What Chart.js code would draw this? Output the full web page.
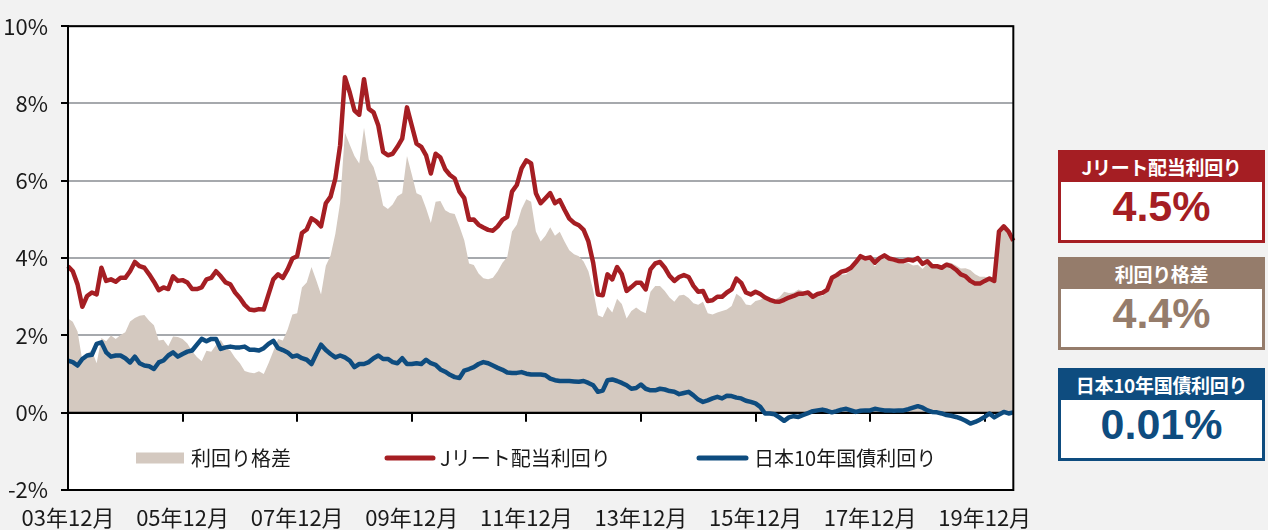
<!DOCTYPE html>
<html>
<head>
<meta charset="utf-8">
<script src="https://cdn.jsdelivr.net/npm/chart.js@4.4.1/dist/chart.umd.min.js"></script>
<style>
  body { margin: 0; background: #f2f2f2; }
  #wrap { position: relative; width: 1268px; height: 530px; overflow: hidden; }
  #chart { position: absolute; left: 0; top: 0; }
  .box { position: absolute; left: 1058px; width: 207px; height: 93px; box-sizing: border-box;
         border: 3px solid; background: #fff; }
  .box .head { height: 29px; line-height: 29px; color: #fff; text-align: center;
               font: bold 19px "Noto Sans CJK JP", sans-serif; letter-spacing: -0.3px; }
  .box .val { height: 58px; line-height: 60px; text-align: center;
              font: bold 43px "Liberation Sans", Arial, sans-serif; }
</style>
</head>
<body>
<div id="wrap">
  <canvas id="chart" width="1046" height="530"></canvas>
  <div class="box" id="b1" style="top:150px;border-color:#a51e23;">
    <div class="head" style="background:#a51e23;">Jリート配当利回り</div>
    <div class="val" style="color:#a51e23;">4.5%</div>
  </div>
  <div class="box" id="b2" style="top:257px;border-color:#957c6b;">
    <div class="head" style="background:#957c6b;">利回り格差</div>
    <div class="val" style="color:#957c6b;">4.4%</div>
  </div>
  <div class="box" id="b3" style="top:368px;border-color:#0e4c7f;">
    <div class="head" style="background:#0e4c7f;">日本10年国債利回り</div>
    <div class="val" style="color:#0e4c7f;">0.01%</div>
  </div>
</div>
<script>
// monthly, 2003/12 - 2020/06
const tickLabels = ['03年12月', '05年12月', '07年12月', '09年12月', '11年12月',
                    '13年12月', '15年12月', '17年12月', '19年12月'];

const months = [];
for (let y = 2003, m = 12; months.length < 199; m++) {
    if (m > 12) { m = 1; y++; }
    months.push(String(y % 100).padStart(2, '0') + '年' + m + '月');
}

const jreit = [
    3.79, 3.66, 3.32, 2.74, 3.02, 3.11, 3.06, 3.75, 3.41, 3.45, 3.39, 3.49,
    3.49, 3.66, 3.90, 3.79, 3.75, 3.58, 3.39, 3.17, 3.24, 3.20, 3.53, 3.41,
    3.43, 3.37, 3.20, 3.20, 3.24, 3.45, 3.49, 3.66, 3.53, 3.37, 3.32, 3.11,
    2.97, 2.79, 2.67, 2.65, 2.68, 2.67, 3.06, 3.45, 3.58, 3.49, 3.71, 3.99,
    4.05, 4.65, 4.74, 5.03, 4.95, 4.82, 5.42, 5.59, 6.06, 6.92, 8.68, 8.29,
    7.82, 7.71, 8.63, 7.86, 7.77, 7.43, 6.75, 6.66, 6.70, 6.88, 7.09, 7.90,
    7.43, 6.96, 6.88, 6.66, 6.19, 6.70, 6.60, 6.30, 6.15, 6.06, 5.72, 5.55,
    4.99, 5.00, 4.86, 4.79, 4.73, 4.71, 4.82, 4.99, 5.07, 5.72, 5.89, 6.32,
    6.53, 6.45, 5.68, 5.42, 5.55, 5.68, 5.42, 5.50, 5.25, 5.02, 4.91, 4.85,
    4.73, 4.43, 3.88, 3.06, 3.04, 3.58, 3.45, 3.77, 3.58, 3.15, 3.25, 3.36,
    3.36, 3.19, 3.71, 3.86, 3.90, 3.75, 3.54, 3.41, 3.51, 3.56, 3.51, 3.28,
    3.13, 3.15, 2.89, 2.91, 3.00, 3.00, 3.11, 3.19, 3.47, 3.36, 3.11, 3.06,
    3.13, 3.07, 2.98, 2.92, 2.88, 2.87, 2.92, 2.98, 3.02, 3.08, 3.08, 3.11,
    3.00, 3.07, 3.10, 3.18, 3.49, 3.56, 3.65, 3.68, 3.75, 3.89, 4.05, 3.99,
    4.02, 3.88, 4.00, 4.07, 3.99, 3.96, 3.92, 3.92, 3.96, 3.94, 4.00, 3.85,
    3.92, 3.79, 3.79, 3.75, 3.83, 3.79, 3.70, 3.58, 3.53, 3.41, 3.34, 3.34,
    3.41, 3.47, 3.41, 4.69, 4.82, 4.69, 4.45
];

const jgb = [
    1.35, 1.31, 1.22, 1.39, 1.48, 1.50, 1.78, 1.82, 1.56, 1.45, 1.48, 1.48,
    1.41, 1.30, 1.45, 1.28, 1.22, 1.20, 1.13, 1.30, 1.35, 1.48, 1.56, 1.45,
    1.52, 1.58, 1.61, 1.76, 1.91, 1.85, 1.91, 1.91, 1.65, 1.69, 1.71, 1.69,
    1.69, 1.71, 1.63, 1.63, 1.61, 1.67, 1.78, 1.86, 1.67, 1.62, 1.56, 1.45,
    1.48, 1.41, 1.37, 1.26, 1.52, 1.76, 1.62, 1.52, 1.43, 1.48, 1.43, 1.35,
    1.18, 1.26, 1.26, 1.31, 1.41, 1.48, 1.39, 1.39, 1.31, 1.28, 1.41, 1.26,
    1.26, 1.28, 1.26, 1.37, 1.28, 1.24, 1.12, 1.06, 0.98, 0.92, 0.90, 1.09,
    1.13, 1.18, 1.26, 1.31, 1.28, 1.22, 1.16, 1.11, 1.04, 1.03, 1.03, 1.05,
    1.01, 0.99, 0.99, 0.99, 0.97, 0.88, 0.84, 0.82, 0.82, 0.82, 0.81, 0.80,
    0.82, 0.77, 0.71, 0.54, 0.57, 0.84, 0.86, 0.82, 0.77, 0.71, 0.62, 0.64,
    0.73, 0.62, 0.58, 0.58, 0.62, 0.60, 0.56, 0.54, 0.48, 0.51, 0.54, 0.45,
    0.34, 0.28, 0.32, 0.37, 0.41, 0.37, 0.44, 0.43, 0.39, 0.37, 0.31, 0.28,
    0.24, 0.15, -0.02, -0.02, -0.04, -0.12, -0.21, -0.12, -0.09, -0.11, -0.06, -0.01,
    0.04, 0.06, 0.08, 0.05, 0.01, 0.04, 0.08, 0.10, 0.06, 0.02, 0.05, 0.06,
    0.06, 0.10, 0.08, 0.06, 0.06, 0.05, 0.06, 0.06, 0.09, 0.13, 0.17, 0.13,
    0.06, 0.02, 0.01, -0.02, -0.06, -0.08, -0.11, -0.15, -0.21, -0.28, -0.24, -0.18,
    -0.11, -0.02, -0.12, -0.05, 0.02, -0.02, 0.01
];

const spread = [
    2.44, 2.35, 2.10, 1.35, 1.54, 1.61, 1.28, 1.93, 1.85, 2.00, 1.91, 2.01,
    2.08, 2.36, 2.45, 2.51, 2.53, 2.38, 2.26, 1.87, 1.89, 1.72, 1.97, 1.96,
    1.91, 1.79, 1.59, 1.44, 1.33, 1.60, 1.58, 1.75, 1.88, 1.68, 1.61, 1.42,
    1.28, 1.08, 1.04, 1.02, 1.07, 1.00, 1.28, 1.59, 1.91, 1.87, 2.15, 2.54,
    2.57, 3.24, 3.37, 3.77, 3.43, 3.06, 3.80, 4.07, 4.63, 5.44, 7.25, 6.94,
    6.64, 6.45, 7.37, 6.55, 6.36, 5.95, 5.36, 5.27, 5.39, 5.60, 5.68, 6.64,
    6.17, 5.68, 5.62, 5.29, 4.91, 5.46, 5.48, 5.24, 5.17, 5.14, 4.82, 4.46,
    3.86, 3.82, 3.60, 3.48, 3.45, 3.49, 3.66, 3.88, 4.03, 4.69, 4.86, 5.27,
    5.52, 5.46, 4.69, 4.43, 4.58, 4.80, 4.58, 4.68, 4.43, 4.20, 4.10, 4.05,
    3.91, 3.66, 3.17, 2.52, 2.47, 2.74, 2.59, 2.95, 2.81, 2.44, 2.63, 2.72,
    2.63, 2.57, 3.13, 3.28, 3.28, 3.15, 2.98, 2.87, 3.03, 3.05, 2.97, 2.83,
    2.79, 2.87, 2.57, 2.54, 2.59, 2.63, 2.67, 2.76, 3.08, 2.99, 2.80, 2.78,
    2.89, 2.92, 3.00, 2.94, 2.92, 2.99, 3.13, 3.10, 3.11, 3.19, 3.14, 3.12,
    2.96, 3.01, 3.02, 3.13, 3.48, 3.52, 3.57, 3.58, 3.69, 3.87, 4.00, 3.93,
    3.96, 3.78, 3.92, 4.01, 3.93, 3.91, 3.86, 3.86, 3.87, 3.81, 3.83, 3.72,
    3.86, 3.77, 3.78, 3.77, 3.89, 3.87, 3.81, 3.73, 3.74, 3.69, 3.58, 3.52,
    3.52, 3.49, 3.53, 4.74, 4.80, 4.71, 4.44
];

const RED = '#a51e23';
const BLUE = '#0e4c7f';
const AREA = '#d4c9c0';
const GRID = '#a6a9ad';
const TEXT = '#1a1a1a';
const AXIS_FONT = '"Liberation Sans Narrow", "Arial Narrow", "Noto Sans CJK JP", sans-serif';
const JP_FONT = '"Noto Sans CJK JP", sans-serif';

// white plot area on grey page
const plotBg = {
    id: 'plotBg',
    beforeDraw(chart) {
        const { ctx, chartArea: a } = chart;
        ctx.save();
        ctx.fillStyle = '#fff';
        ctx.fillRect(a.left, a.top, a.right - a.left, a.bottom - a.top);
        ctx.restore();
    }
};

// zero line and the small date ticks hanging from it, over the area fill
const zeroLine = {
    id: 'zeroLine',
    afterDatasetDraw(chart, args) {
        if (args.index !== 0) return;
        const { ctx, chartArea: a, scales: { x, y } } = chart;
        const y0 = y.getPixelForValue(0);
        ctx.save();
        ctx.strokeStyle = '#000';
        ctx.lineWidth = 2;
        ctx.beginPath();
        ctx.moveTo(a.left, y0);
        ctx.lineTo(a.right, y0);
        months.forEach((m, i) => {
            if (i > 0 && tickLabels.includes(m)) {
                const px = Math.round(x.getPixelForValue(i));
                ctx.moveTo(px, y0);
                ctx.lineTo(px, y0 + 9);
            }
        });
        ctx.stroke();
        ctx.restore();
    }
};

const frameAndLegend = {
    id: 'frameAndLegend',
    afterDraw(chart) {
        const { ctx, chartArea: a } = chart;
        ctx.save();
        ctx.strokeStyle = '#000';
        ctx.lineWidth = 2;
        ctx.strokeRect(a.left, a.top, a.right - a.left, a.bottom - a.top);

        const ds = chart.data.datasets;
        const ly = 458;
        ctx.font = '20px ' + JP_FONT;
        ctx.textBaseline = 'middle';
        ctx.fillStyle = ds[0].backgroundColor;
        ctx.fillRect(136, ly - 5.5, 48, 11);
        ctx.fillStyle = TEXT;
        ctx.fillText(ds[0].label, 191, ly);

        ctx.lineCap = 'round';
        ctx.lineWidth = 5;
        [[1, 387, 433, 440], [2, 699, 746, 754]].forEach(([k, x1, x2, tx]) => {
            ctx.strokeStyle = ds[k].borderColor;
            ctx.beginPath();
            ctx.moveTo(x1, ly);
            ctx.lineTo(x2, ly);
            ctx.stroke();
            ctx.fillText(ds[k].label, tx, ly);
        });
        ctx.restore();
    }
};

new Chart(document.getElementById('chart'), {
    type: 'line',
    data: {
        labels: months,
        datasets: [{
            label: '利回り格差',
            data: spread,
            fill: 'origin',
            backgroundColor: AREA,
            borderColor: 'rgba(0,0,0,0)',
            borderWidth: 0,
            pointRadius: 0,
            order: 3
        }, {
            label: 'Jリート配当利回り',
            data: jreit,
            borderColor: RED,
            borderWidth: 4.5,
            borderJoinStyle: 'round',
            pointRadius: 0,
            fill: false,
            order: 2
        }, {
            label: '日本10年国債利回り',
            data: jgb,
            borderColor: BLUE,
            borderWidth: 4.5,
            borderJoinStyle: 'round',
            pointRadius: 0,
            fill: false,
            order: 1
        }]
    },
    options: {
        responsive: false,
        animation: false,
        layout: { padding: { top: 23.5, right: 30, left: 0, bottom: 0 } },
        plugins: {
            legend: { display: false },
            tooltip: { enabled: false }
        },
        scales: {
            x: {
                grid: { display: false, drawTicks: false },
                border: { display: false },
                ticks: {
                    autoSkip: false,
                    maxRotation: 0,
                    padding: 14,
                    color: TEXT,
                    font: { family: AXIS_FONT, size: 22 },
                    callback: function (v) {
                        const m = this.getLabelForValue(v);
                        return tickLabels.includes(m) ? m : null;
                    }
                },
                afterFit(s) { s.height = 40; }
            },
            y: {
                min: -2,
                max: 10,
                ticks: {
                    stepSize: 2,
                    padding: 13,
                    color: TEXT,
                    font: { family: AXIS_FONT, size: 22 },
                    callback: v => v + '%'
                },
                grid: {
                    color: c => c.tick && c.tick.value === 0 ? '#000' : GRID,
                    lineWidth: 2,
                    tickColor: '#000',
                    tickLength: 7,
                    tickWidth: 2
                },
                border: { display: true, color: '#000', width: 2 },
                afterFit(s) { s.width = 68; }
            }
        }
    },
    plugins: [plotBg, zeroLine, frameAndLegend]
});
</script>
</body>
</html>
